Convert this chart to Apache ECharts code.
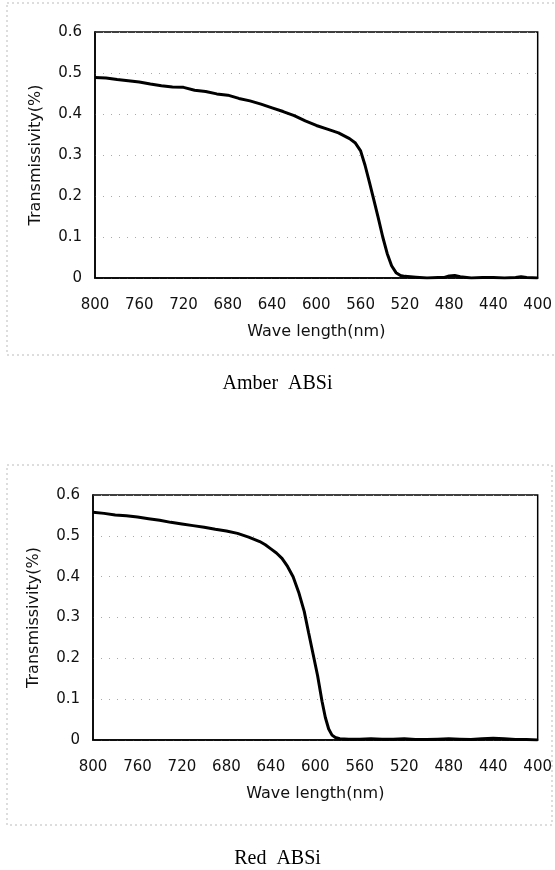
<!DOCTYPE html>
<html>
<head>
<meta charset="utf-8">
<script src="https://cdn.jsdelivr.net/npm/echarts@6/dist/echarts.min.js"></script>
<style>
  html, body { margin: 0; padding: 0; background: #fff; }
  #chart { width: 555px; height: 870px; }
</style>
</head>
<body>
<div id="chart"></div>
<script>
// wavelength (nm) and transmissivity
const amberWave = [800, 790, 780, 770, 760, 750, 740, 730, 720, 710, 700, 690, 680, 670, 660, 650, 640, 630, 620, 610,
  600, 590, 580, 570, 565, 560, 556, 552, 548, 544, 540, 536, 532, 528, 524, 520, 510, 500, 490, 485,
  480, 475, 470, 460, 450, 440, 430, 420, 415, 410, 400];
const amberTrans = [0.489, 0.488, 0.484, 0.481, 0.478, 0.473, 0.469, 0.466, 0.465, 0.458, 0.455, 0.449, 0.446, 0.438, 0.432, 0.424, 0.415, 0.406, 0.396, 0.383,
  0.372, 0.363, 0.354, 0.340, 0.330, 0.310, 0.275, 0.233, 0.190, 0.146, 0.100, 0.060, 0.030, 0.013, 0.006, 0.004, 0.002, 0.000, 0.001, 0.001,
  0.005, 0.006, 0.003, 0.000, 0.001, 0.001, 0.000, 0.001, 0.003, 0.001, 0.000];

const redWave = [800, 790, 780, 770, 760, 750, 740, 730, 720, 710, 700, 690, 680, 670, 660, 650, 645, 640, 635, 630,
  625, 620, 615, 610, 606, 602, 598, 594, 591, 588, 585, 582, 578, 570, 560, 550, 540, 530, 520, 510,
  500, 490, 480, 470, 460, 450, 440, 430, 420, 410, 400];
const redTrans = [0.558, 0.555, 0.551, 0.549, 0.546, 0.542, 0.538, 0.533, 0.529, 0.525, 0.521, 0.516, 0.512, 0.506, 0.497, 0.486, 0.478, 0.468, 0.458, 0.445,
  0.425, 0.400, 0.362, 0.315, 0.262, 0.210, 0.158, 0.095, 0.055, 0.027, 0.012, 0.006, 0.003, 0.002, 0.002, 0.003, 0.002, 0.002, 0.003, 0.001,
  0.001, 0.002, 0.003, 0.002, 0.001, 0.003, 0.004, 0.003, 0.001, 0.001, 0.000];

const chartTitles = ['Amber  ABSi', 'Red  ABSi'];
const xName = 'Wave length(nm)';
const yName = 'Transmissivity(%)';

const SANS = '"DejaVu Sans", sans-serif';
const SERIF = '"Liberation Serif", "Times New Roman", serif';

function zip(xs, ys) {
  return xs.map((x, i) => [x, ys[i]]);
}

function xAxisConfig(gridIndex) {
  return {
    gridIndex: gridIndex,
    type: 'value',
    inverse: true,
    min: 400,
    max: 800,
    interval: 40,
    name: xName,
    nameLocation: 'middle',
    nameGap: 46,
    nameTextStyle: { color: '#111', fontFamily: SANS, fontSize: 16 },
    axisLine: { show: true, lineStyle: { color: '#000', width: 1.5 } },
    axisTick: { show: false },
    splitLine: { show: false },
    axisLabel: { color: '#111', fontFamily: SANS, fontSize: 15, margin: 20 }
  };
}

function yAxisConfig(gridIndex) {
  return {
    gridIndex: gridIndex,
    type: 'value',
    min: 0,
    max: 0.6,
    interval: 0.1,
    name: yName,
    nameLocation: 'middle',
    nameGap: 51,
    nameTextStyle: { color: '#111', fontFamily: SANS, fontSize: 16 },
    axisLine: { show: true, lineStyle: { color: '#000', width: 1.5 } },
    axisTick: { show: false },
    splitLine: { show: true, lineStyle: { color: '#aaa', type: [1, 7], width: 1 } },
    axisLabel: { color: '#111', fontFamily: SANS, fontSize: 15, margin: 13 }
  };
}

function lineSeries(data, idx) {
  return {
    type: 'line',
    xAxisIndex: idx,
    yAxisIndex: idx,
    data: data,
    showSymbol: false,
    symbol: 'none',
    lineStyle: { color: '#000', width: 3 },
    z: 3
  };
}

const chart = echarts.init(document.getElementById('chart'));
const option = {
  animation: false,
  backgroundColor: '#fff',
  title: [
    { text: chartTitles[0], left: 'center', top: 369, textStyle: { fontFamily: SERIF, fontSize: 20, fontWeight: 'normal', color: '#000' } },
    { text: chartTitles[1], left: 'center', top: 844, textStyle: { fontFamily: SERIF, fontSize: 20, fontWeight: 'normal', color: '#000' } }
  ],
  grid: [
    { left: 95, right: 12, top: 32, height: 246, show: true, borderColor: '#000', borderWidth: 1.5, backgroundColor: 'transparent' },
    { left: 93, right: 16, top: 495, height: 245, show: true, borderColor: '#000', borderWidth: 1.5, backgroundColor: 'transparent' }
  ],
  xAxis: [xAxisConfig(0), xAxisConfig(1)],
  yAxis: [yAxisConfig(0), yAxisConfig(1)],
  series: [
    lineSeries(zip(amberWave, amberTrans), 0),
    lineSeries(zip(redWave, redTrans), 1)
  ],
  graphic: [
    // faint dotted frames around each scanned chart
    { type: 'rect', shape: { x: 7, y: 3, width: 560, height: 352 }, style: { fill: 'none', stroke: '#bbb', lineWidth: 1, lineDash: [2, 3] }, silent: true },
    { type: 'rect', shape: { x: 7, y: 465, width: 545, height: 360 }, style: { fill: 'none', stroke: '#bbb', lineWidth: 1, lineDash: [2, 3] }, silent: true }
  ]
};
chart.setOption(option);
</script>
</body>
</html>
